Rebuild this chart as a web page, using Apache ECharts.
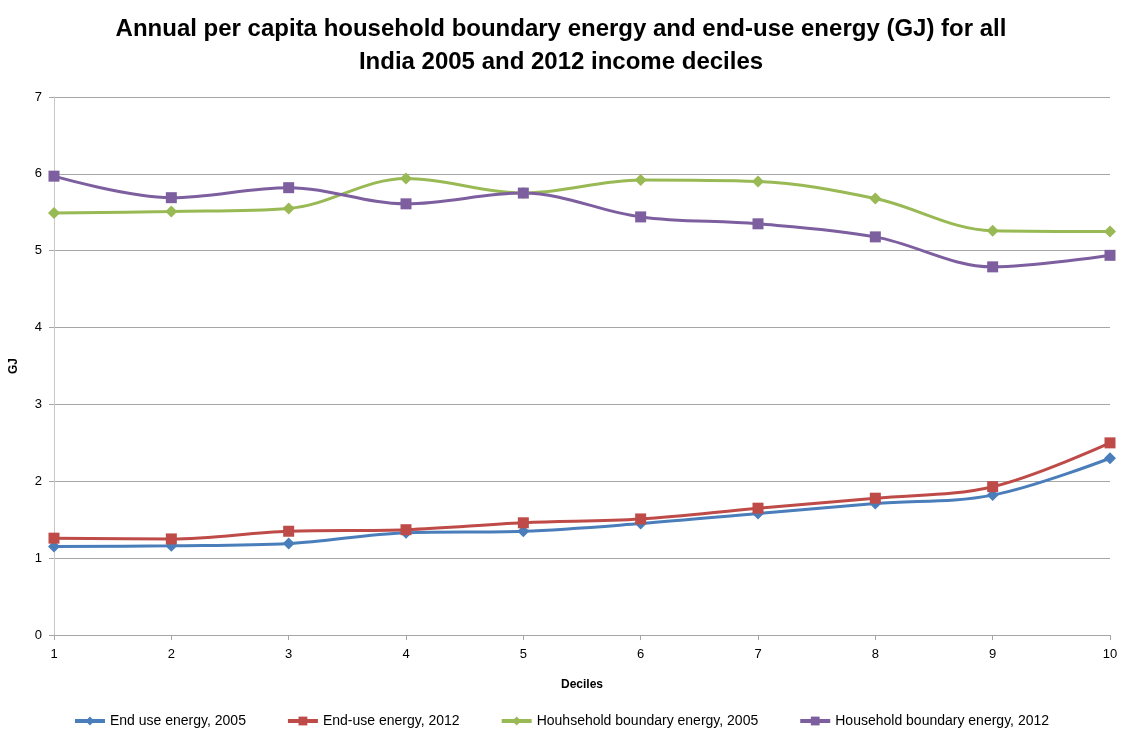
<!DOCTYPE html>
<html>
<head>
<meta charset="utf-8">
<script src="https://cdn.jsdelivr.net/npm/echarts@6/dist/echarts.min.js"></script>
<style>
  html, body { margin: 0; padding: 0; background: #fff; }
  #chart { width: 1122px; height: 730px; }
</style>
</head>
<body>
<div id="chart"></div>
<script>
// Income deciles on the x axis
const deciles = ['1', '2', '3', '4', '5', '6', '7', '8', '9', '10'];

// Annual per capita energy (GJ)
const endUse2005 = [1.15, 1.16, 1.19, 1.33, 1.35, 1.45, 1.58, 1.71, 1.82, 2.30];
const endUse2012 = [1.26, 1.25, 1.35, 1.37, 1.46, 1.51, 1.65, 1.78, 1.93, 2.50];
const boundary2005 = [5.49, 5.51, 5.55, 5.94, 5.75, 5.92, 5.90, 5.68, 5.26, 5.25];
const boundary2012 = [5.97, 5.69, 5.82, 5.61, 5.75, 5.44, 5.35, 5.18, 4.79, 4.94];

const seriesNames = [
  'End use energy, 2005',
  'End-use energy, 2012',
  'Houhsehold boundary energy, 2005',
  'Household boundary energy, 2012'
];

const FONT = '"Liberation Sans", Arial, sans-serif';

function lineSeries(name, data, color, symbol, size) {
  return {
    name: name,
    type: 'line',
    data: data,
    smooth: 0.35,
    symbol: symbol,
    symbolSize: size,
    lineStyle: { width: 3, color: color },
    itemStyle: { color: color },
    emphasis: { disabled: true }
  };
}

const chart = echarts.init(document.getElementById('chart'), null, { renderer: 'canvas' });
chart.setOption({
  animation: false,
  backgroundColor: '#ffffff',
  title: {
    text: 'Annual per capita household boundary energy and end-use energy (GJ) for all\nIndia 2005 and 2012 income deciles',
    left: 'center',
    top: 8,
    textStyle: {
      fontFamily: FONT,
      fontWeight: 'bold',
      fontSize: 24,
      lineHeight: 33,
      color: '#000'
    }
  },
  grid: { left: 52, right: 12, top: 97, bottom: 95, containLabel: false },
  legend: {
    bottom: 2,
    padding: 0,
    left: 'center',
    itemGap: 40,
    itemWidth: 30,
    itemHeight: 11,
    textStyle: { fontFamily: FONT, fontSize: 14, color: '#000' },
    data: seriesNames.map(function (n) {
      return { name: n, lineStyle: { width: 4 } };
    })
  },
  xAxis: {
    type: 'category',
    data: deciles,
    boundaryGap: false,
    name: 'Deciles',
    nameLocation: 'middle',
    nameGap: 44,
    nameTextStyle: { fontFamily: FONT, fontWeight: 'bold', fontSize: 12, color: '#000' },
    axisLine: { lineStyle: { color: '#a6a6a6', width: 1 } },
    axisTick: { show: true, length: 5, alignWithLabel: true, lineStyle: { color: '#a6a6a6' } },
    axisLabel: { fontFamily: FONT, fontSize: 13, color: '#000', margin: 13 },
    splitLine: { show: false }
  },
  yAxis: {
    type: 'value',
    min: 0,
    max: 7,
    interval: 1,
    name: 'GJ',
    nameLocation: 'middle',
    nameGap: 34,
    nameRotate: 90,
    nameTextStyle: { fontFamily: FONT, fontWeight: 'bold', fontSize: 12, color: '#000' },
    axisLine: { show: true, lineStyle: { color: '#c8c8c8', width: 1 } },
    axisTick: { show: true, length: 5, inside: false, lineStyle: { color: '#a6a6a6' } },
    axisLabel: { fontFamily: FONT, fontSize: 13, color: '#000', margin: 12 },
    splitLine: { show: true, lineStyle: { color: '#a6a6a6', width: 1 } }
  },
  series: [
    lineSeries(seriesNames[0], endUse2005, '#4a7ebb', 'diamond', 12),
    lineSeries(seriesNames[1], endUse2012, '#be4b48', 'rect', 11),
    lineSeries(seriesNames[2], boundary2005, '#98b954', 'diamond', 12),
    lineSeries(seriesNames[3], boundary2012, '#7d5fa0', 'rect', 11)
  ]
});
</script>
</body>
</html>
